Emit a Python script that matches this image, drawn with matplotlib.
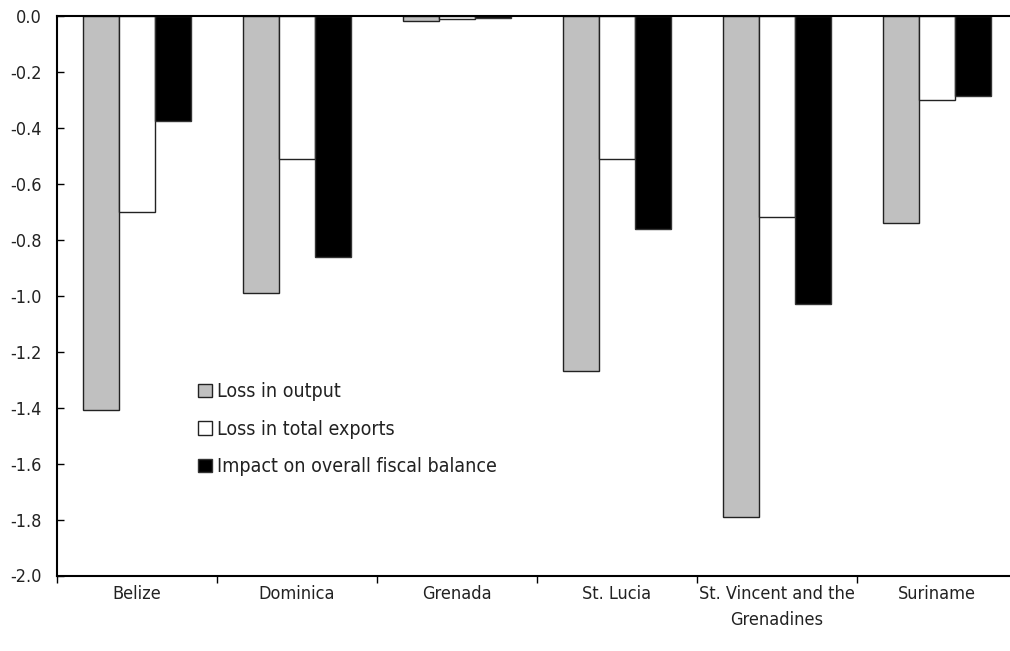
import matplotlib
matplotlib.use("Agg")
import matplotlib.pyplot as plt
import numpy as np

# data (percent)
countries = ["Belize", "Dominica", "Grenada", "St. Lucia",
             "St. Vincent and the\nGrenadines", "Suriname"]
loss_output = [-1.41, -0.99, -0.017, -1.27, -1.79, -0.74]
loss_exports = [-0.70, -0.51, -0.011, -0.51, -0.72, -0.30]
fiscal_impact = [-0.375, -0.86, -0.008, -0.76, -1.03, -0.285]
series_names = ["Loss in output", "Loss in total exports",
                "Impact on overall fiscal balance"]
yticks = np.round(np.arange(-2.0, 0.01, 0.2), 1)

plt.rcParams['font.family'] = ['DejaVu Sans']
plt.rcParams['font.stretch'] = 'condensed'
plt.rcParams['font.size'] = 13
plt.rcParams['text.color'] = '#222222'

fig = plt.figure(figsize=(10.10, 6.51), dpi=100)
# axes runs past the right edge on purpose (clipped like the reference)
ax = fig.add_axes([57 / 1010, (651 - 575.5) / 651, 960 / 1010, 559.5 / 651])

x = np.arange(len(countries))
w = 0.223
ax.bar(x - w, loss_output, w, color='#c0c0c0', edgecolor='#222222',
       linewidth=1.0, label=series_names[0])
ax.bar(x, loss_exports, w, color='white', edgecolor='#222222',
       linewidth=1.0, label=series_names[1])
ax.bar(x + w, fiscal_impact, w, color='black', edgecolor='#333333',
       linewidth=1.0, label=series_names[2])

ax.set_xlim(-0.5, len(countries) - 0.5)
ax.set_ylim(-2.0, 0.0)
ax.set_yticks(yticks)
ax.set_yticklabels([f"{v:.1f}" if v != 0 else "0.0" for v in yticks])
ax.tick_params(axis='y', direction='in', length=5, width=1, pad=11,
               labelcolor='#222222')

ax.set_xticks(x)
ax.set_xticklabels(countries, linespacing=1.55)
ax.set_xticks(np.arange(-0.5, len(countries), 1.0), minor=True)
ax.tick_params(axis='x', which='major', length=0, pad=7, labelcolor='#222222')
ax.tick_params(axis='x', which='minor', direction='out', length=5, width=1)

for s in ['left', 'top', 'bottom']:
    ax.spines[s].set_linewidth(1.5)
ax.spines['right'].set_visible(False)

leg = ax.legend(loc='upper left', bbox_to_anchor=(0.147, 0.345), frameon=False,
                handlelength=0.7, handleheight=0.7, handletextpad=0.25,
                labelspacing=0.95, borderaxespad=0, borderpad=0, fontsize=14)

fig.savefig("out.png", dpi=100)
